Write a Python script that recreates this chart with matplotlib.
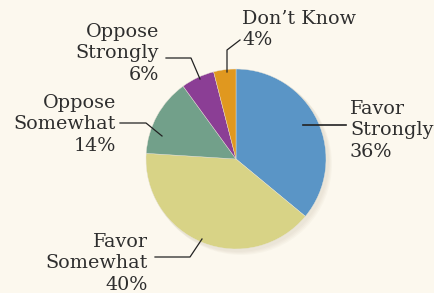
import matplotlib
matplotlib.use("Agg")
import matplotlib.pyplot as plt
from matplotlib.patches import Circle

categories = ["Favor\nStrongly", "Favor\nSomewhat", "Oppose\nSomewhat", "Oppose\nStrongly", "Don\u2019t Know"]
values = [36, 40, 14, 6, 4]
colors = ["#5a95c6", "#d8d386", "#72a08a", "#8b3e95", "#e0981f"]
bg = "#fcf8ee"

W, H = 435, 293
fig = plt.figure(figsize=(W / 100, H / 100), dpi=100, facecolor=bg)
ax = fig.add_axes([0, 0, 1, 1])
ax.set_facecolor(bg)

cx, cy, r = 236, H - 159, 90

# soft shadow
for i in range(4):
    ax.add_patch(Circle((cx + 2 + i, cy - 2 - i), r + 1, color="#8a7a5a", alpha=0.035, lw=0, zorder=1))

ax.pie(values, colors=colors, startangle=90, counterclock=False, center=(cx, cy), radius=r,
       frame=True, wedgeprops=dict(linewidth=0.3, edgecolor="#e8e4d8", zorder=2))
ax.set_xlim(0, W)
ax.set_ylim(0, H)
ax.set_aspect("equal")
ax.axis("off")

font = dict(family="DejaVu Serif", fontsize=13.8, color="#2e2e2e", linespacing=1.24)

def Y(y):
    return H - y

labels = [f"{c}\n{v}%" for c, v in zip(categories, values)]

# Favor Strongly
ax.text(350, Y(100), labels[0], ha="left", va="top", **font)
ax.plot([303, 346], [Y(125), Y(125)], color="#222222", lw=1.2, zorder=3)
# Favor Somewhat
ax.text(148, Y(233), labels[1], ha="right", va="top", **font)
ax.plot([202, 190, 155], [Y(239), Y(257), Y(257)], color="#222222", lw=0.9, zorder=3)
# Oppose Somewhat
ax.text(116, Y(94), labels[2], ha="right", va="top", **font)
ax.plot([162, 146, 120], [Y(136), Y(123), Y(123)], color="#222222", lw=0.9, zorder=3)
# Oppose Strongly
ax.text(159, Y(23), labels[3], ha="right", va="top", **font)
ax.plot([200, 191, 166], [Y(79), Y(58), Y(58)], color="#222222", lw=0.9, zorder=3)
# Don't Know
ax.text(242, Y(10), labels[4], ha="left", va="top", **font)
ax.plot([227, 227, 240], [Y(72), Y(50), Y(40)], color="#222222", lw=0.9, zorder=3)

fig.savefig("out.png", dpi=100, facecolor=bg)
